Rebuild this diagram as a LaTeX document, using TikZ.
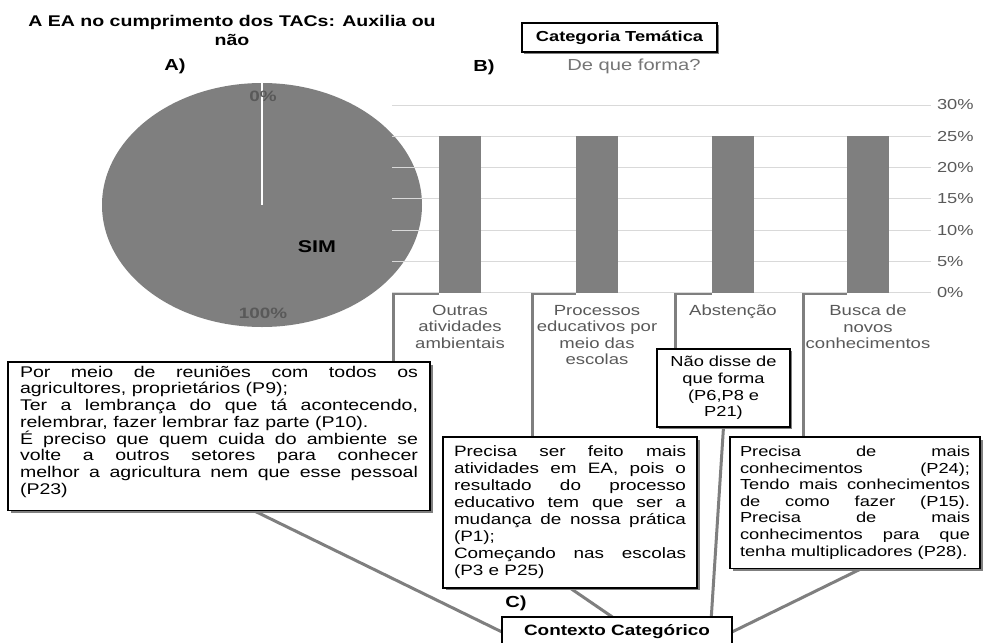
\documentclass[tikz,border=0pt]{standalone}
\usepackage{fontspec}
\setmainfont{Liberation Sans}[FakeStretch=1.26]
\usetikzlibrary{shadows,calc}

\definecolor{chartgray}{HTML}{7F7F7F}
\definecolor{textgray}{HTML}{595959}
\definecolor{gridgray}{HTML}{D9D9D9}
\definecolor{titlegray}{HTML}{757575}

\newcommand{\fsz}[2]{\fontsize{#1}{#2}\selectfont}
\pgfdeclarelayer{back}
\pgfsetlayers{back,main}

\begin{document}
\begin{tikzpicture}[x=1pt,y=-1pt,
  every node/.style={inner sep=0pt, outer sep=0pt},
  panel/.style={font=\fsz{16}{18}\bfseries},
  quotebox/.style={draw=black, line width=1.1pt, fill=white, align=justify,
    inner ysep=9pt, anchor=north west,
    execute at begin node={\tolerance=10000\hbadness=10000\hfuzz=3pt},
    drop shadow={shadow xshift=2.5pt, shadow yshift=-2.5pt, fill=chartgray, opacity=1}},
  catlabel/.style={anchor=north, align=center, text=textgray, font=\fsz{14.7}{16.6}},
  axislabel/.style={anchor=west, text=textgray, font=\fsz{14.5}{16}},
  chartbar/.style={fill=chartgray, minimum width=42pt, minimum height=156.5pt, anchor=south},
  bracketline/.style={draw=chartgray, line width=3pt},
  linkline/.style={draw=chartgray, line width=3pt},
]
\useasboundingbox (0,0) rectangle (986,643);

% ---- panel A: pie chart ----
\node[font=\fsz{15.5}{19}\bfseries, align=center] (title) at (232,30)
  {A EA no cumprimento dos TACs: Auxilia ou\\não};
\node[panel] (pA) at (175,66) {A)};
\fill[chartgray] (262,205) ellipse [x radius=160pt, y radius=122pt];
\draw[white, line width=2.5pt] (262,83) -- (262,205);
\node[font=\fsz{15}{17}\bfseries, text=textgray] (p0) at (263,96) {0\%};
\node[font=\fsz{17}{19}\bfseries] (psim) at (317,247) {SIM};
\node[font=\fsz{15}{17}\bfseries, text=textgray] (p100) at (263,313) {100\%};

% ---- panel B: bar chart ----
\node[draw, line width=1.2pt, fill=white, minimum width=195pt, minimum height=29pt,
  font=\fsz{14.5}{16}\bfseries,
  drop shadow={shadow xshift=1.5pt, shadow yshift=-1.5pt, fill=chartgray, opacity=1}]
  (cat) at (619.5,37.5) {Categoria Temática};
\node[panel] (pB) at (484,67) {B)};
\node[font=\fsz{16}{18}, text=titlegray] (ctitle) at (634,66) {De que forma?};

\foreach \k in {0,...,6}
  \draw[gridgray, line width=1pt] (392,{105+31.3*\k}) -- (931,{105+31.3*\k});
\foreach \k/\v in {0/30,1/25,2/20,3/15,4/10,5/5,6/0}
  \node[axislabel] (tick\v) at (937,{105+31.3*\k}) {\v\%};

\foreach \i/\x in {1/460,2/597,3/733,4/868}
  \node[chartbar] (bar\i) at (\x,292.8) {};

\node[catlabel] (lab1) at (460,305) {Outras\\atividades\\ambientais};
\node[catlabel] (lab2) at (597,305) {Processos\\educativos por\\meio das\\escolas};
\node[catlabel] (lab3) at (733,305) {Abstenção};
\node[catlabel] (lab4) at (868,305) {Busca de\\novos\\conhecimentos};

% ---- quotation boxes ----
\node[quotebox, font=\fsz{15.5}{16.7}, text width=398pt, inner xsep=12pt, inner ysep=4pt]
  (qleft) at (8,362)
  {Por meio de reuniões com todos os\linebreak agricultores, proprietários (P9);\par
   Ter a lembrança do que tá acontecendo,\linebreak relembrar, fazer lembrar faz parte (P10).\par
   É preciso que quem cuida do ambiente se\linebreak volte a outros setores para conhecer\linebreak
   melhor a agricultura nem que esse pessoal\linebreak (P23)\rule[-12pt]{0pt}{12pt}};

\node[quotebox, font=\fsz{15}{17}, text width=232pt, inner xsep=11pt]
  (qmid) at (443,437)
  {Precisa ser feito mais\linebreak atividades em EA, pois o\linebreak resultado do processo\linebreak
   educativo tem que ser a\linebreak mudança de nossa prática\linebreak (P1);\par
   Começando nas escolas\linebreak (P3 e P25)};

\node[draw=black, line width=1.1pt, fill=white, align=center, font=\fsz{14.5}{16.6},
  text width=119pt, inner xsep=7pt, minimum height=78pt, anchor=north west,
  drop shadow={shadow xshift=1.5pt, shadow yshift=-1.5pt, fill=chartgray, opacity=1}]
  (qnao) at (657,349) {Não disse de\\que forma\\(P6,P8 e\\P21)};

\node[quotebox, font=\fsz{14.5}{16.6}, text width=230pt, inner xsep=10pt]
  (qright) at (730,437)
  {Precisa de mais\linebreak conhecimentos (P24);\linebreak Tendo mais conhecimentos\linebreak
   de como fazer (P15).\linebreak Precisa de mais\linebreak conhecimentos para que\linebreak
   tenha multiplicadores (P28).};

% ---- panel C ----
\node[panel] (pC) at (516,603) {C)};
\node[draw=black, line width=2.8pt, fill=white, minimum width=230pt, minimum height=30pt,
  anchor=north, font=\fsz{15}{17}\bfseries] (ctx) at (617,617) {Contexto Categórico};

% ---- connectors, kept behind the boxes ----
\coordinate (k1) at (393,293.5);
\coordinate (k2) at (532,293.5);
\coordinate (k3) at (675,293.5);
\coordinate (k4) at (803,293.5);
\begin{pgfonlayer}{back}
  \draw[bracketline] (k1 |- qleft.north) -- (k1) -- (k1 -| bar1.west);
  \draw[bracketline] (k2 |- qmid.north) -- (k2) -- (k2 -| bar2.west);
  \draw[bracketline] (k3 |- qnao.north) -- (k3) -- (k3 -| bar3.west);
  \draw[bracketline] (k4 |- qright.north) -- (k4) -- (k4 -| bar4.west);
  \draw[linkline] ($(qleft.south west)!0.58!(qleft.south east)$) -- (ctx.west);
  \draw[linkline] ($(qmid.south west)!0.5!(qmid.south east)$) -- ($(ctx.north west)!0.48!(ctx.north east)$);
  \draw[linkline] ($(qnao.south west)!0.5!(qnao.south east)$) -- ($(ctx.north west)!0.91!(ctx.north east)$);
  \draw[linkline] ($(qright.south west)!0.53!(qright.south east)$) -- (ctx.east);
\end{pgfonlayer}
\end{tikzpicture}
\end{document}
